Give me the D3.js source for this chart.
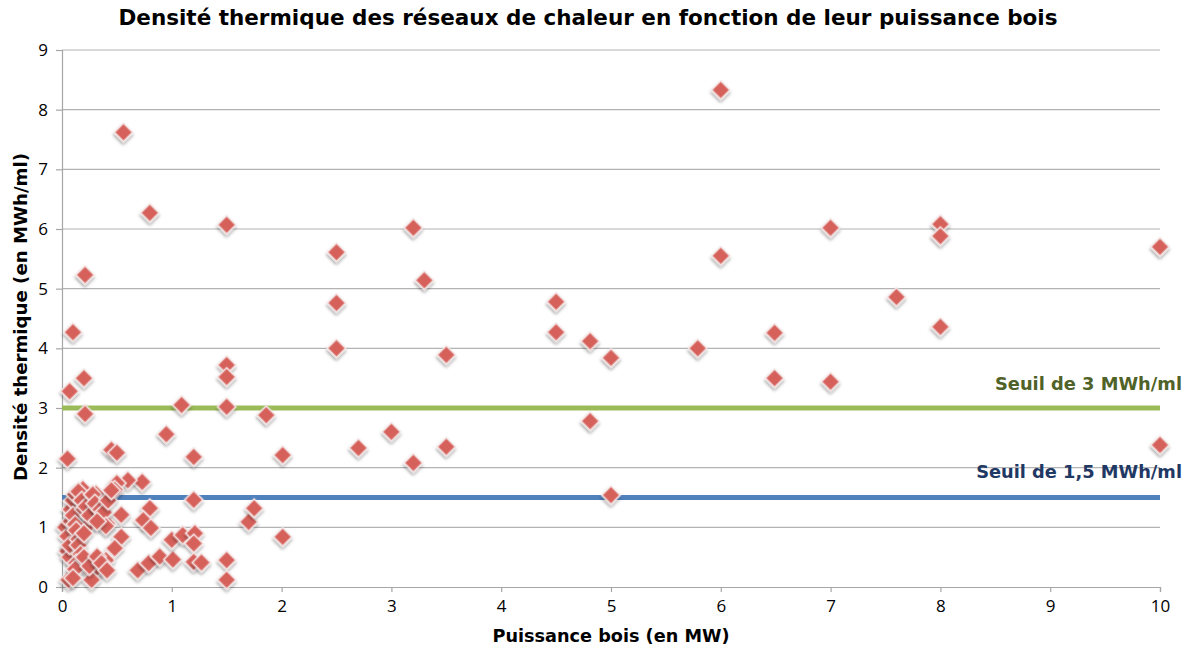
<!DOCTYPE html>
<html><head><meta charset="utf-8">
<script src="https://cdn.jsdelivr.net/npm/d3@7/dist/d3.min.js"></script>
<style>body{margin:0;background:#fff;} svg{display:block;font-family:"Open Sans",sans-serif;}</style>
</head><body>
<svg id="c" width="1194" height="652"></svg>
<script>
const title = "Densité thermique des réseaux de chaleur en fonction de leur puissance bois";
const xLabel = "Puissance bois (en MW)";
const yLabel = "Densité thermique (en MWh/ml)";
const xTicks = [0,1,2,3,4,5,6,7,8,9,10];
const yTicks = [0,1,2,3,4,5,6,7,8,9];
const thresholds = [3, 1.5];
const thresholdLabels = ["Seuil de 3 MWh/ml", "Seuil de 1,5 MWh/ml"];
// puissance bois (MW)
const puissance = [
 0.56,0.80,1.50,0.21,0.10,0.07,0.20,0.21,0.05,1.09,0.95,0.45,0.50,1.20,1.50,1.50,1.50,1.86,2.01,
 2.50,2.50,2.50,2.70,3.00,3.20,3.20,3.30,3.50,3.50,4.50,4.50,4.81,4.81,5.00,5.00,5.79,6.00,6.00,
 6.49,6.49,7.00,7.00,7.60,8.00,8.00,8.00,10.0,10.0,
 1.20,0.73,0.60,0.50,0.48,0.54,0.41,0.25,0.31,0.19,0.80,0.74,0.81,0.54,0.48,
 0.40,0.35,0.28,0.27,0.06,0.69,0.79,0.89,1.01,1.00,1.10,1.21,1.20,1.20,1.27,1.50,1.50,1.70,1.75,2.01,
 0.03,0.05,0.05,0.07,0.07,0.08,0.08,0.10,0.12,0.15,0.10,0.12,0.13,0.15,0.15,0.17,0.13,0.12,0.18,0.20,
 0.22,0.25,0.28,0.30,0.35,0.38,0.42,0.45,0.40,0.32,0.20,0.20,0.25,0.10,0.32,0.36,0.41
];
// densité thermique (MWh/ml)
const densite = [
 7.62,6.27,6.07,5.23,4.27,3.28,3.50,2.90,2.15,3.05,2.56,2.30,2.25,2.18,3.72,3.52,3.02,2.88,2.21,
 5.61,4.76,4.00,2.33,2.60,6.02,2.08,5.14,3.89,2.35,4.78,4.27,4.12,2.78,3.84,1.54,4.00,8.33,5.55,
 4.26,3.50,6.02,3.44,4.86,6.08,5.88,4.36,5.70,2.38,
 1.46,1.76,1.79,1.74,1.63,1.21,1.06,1.06,1.56,1.64,1.32,1.12,0.99,0.84,0.65,
 0.45,0.33,0.25,0.12,0.12,0.28,0.40,0.51,0.46,0.79,0.87,0.90,0.73,0.42,0.41,0.45,0.12,1.09,1.32,0.84,
 1.00,0.85,0.60,0.50,0.70,1.10,1.30,1.45,1.55,1.60,1.20,1.05,0.95,0.80,0.70,0.55,0.40,0.30,1.45,1.30,
 1.35,1.20,1.55,1.40,1.30,1.25,1.45,1.62,1.02,1.10,0.90,0.50,0.35,0.15,0.51,0.40,0.28
];
const data = puissance.map((x,i)=>({x, y: densite[i]}));

const svg = d3.select("#c");
const m = {l:62, r:1160, t:50, b:587};
const x = d3.scaleLinear().domain([0,10]).range([m.l, m.r]);
const y = d3.scaleLinear().domain([0,9]).range([m.b, m.t]);
const boldFont = "'DejaVu Sans',sans-serif";

function fit(sel, target){
  const n = sel.node();
  const fs = parseFloat(sel.attr("font-size"));
  const w = n.getComputedTextLength();
  if (w > 0) sel.attr("font-size", (fs*target/w).toFixed(2)+"px");
}

const defs = svg.append("defs");
const f = defs.append("filter").attr("id","sh").attr("x","-50%").attr("y","-50%").attr("width","200%").attr("height","200%");
f.append("feDropShadow").attr("dx",1.5).attr("dy",2).attr("stdDeviation",1.6).attr("flood-color","#000").attr("flood-opacity",0.35);

// grid
svg.append("g").selectAll("line").data(yTicks.filter(d=>d>0)).join("line")
  .attr("x1",m.l).attr("x2",m.r).attr("y1",d=>y(d)).attr("y2",d=>y(d))
  .attr("stroke","#b3b3b3").attr("stroke-width",1.2);

// axes
const xa = svg.append("g").attr("transform",`translate(0,${m.b})`)
  .call(d3.axisBottom(x).tickValues(xTicks).tickFormat(d3.format("d")).tickSize(5).tickPadding(6));
const ya = svg.append("g").attr("transform",`translate(${m.l},0)`)
  .call(d3.axisLeft(y).tickValues(yTicks).tickFormat(d3.format("d")).tickSize(6).tickPadding(8));
[xa,ya].forEach(a=>{
  a.select(".domain").attr("stroke","#a6a6a6").attr("stroke-width",1.2);
  a.selectAll(".tick line").attr("stroke","#a6a6a6").attr("stroke-width",1.2);
  a.selectAll("text").attr("fill","#000").style("font-size","17px").style("font-family","'Open Sans',sans-serif");
});
xa.selectAll(".tick text").attr("dy","0.85em");

// thresholds
const thColors = ["#9bbb59","#4f81bd"];
const thText = ["#4f6228","#1f3864"];
const thWidths = [187, 206];
svg.append("g").selectAll("line").data(thresholds).join("line")
  .attr("x1",m.l).attr("x2",m.r).attr("y1",d=>y(d)).attr("y2",d=>y(d))
  .attr("stroke",(d,i)=>thColors[i]).attr("stroke-width",5);
svg.append("g").selectAll("text").data(thresholds).join("text")
  .attr("x",1182).attr("y",(d,i)=> y(d) - (i===0?18:20))
  .attr("text-anchor","end").attr("font-weight","700").attr("font-size","16px")
  .style("font-family",boldFont)
  .attr("fill",(d,i)=>thText[i]).text((d,i)=>thresholdLabels[i])
  .each(function(d,i){ fit(d3.select(this), thWidths[i]); });

// points
const s = 13;
svg.append("g").selectAll("rect").data(data).join("rect")
  .attr("x",-s/2).attr("y",-s/2).attr("width",s).attr("height",s)
  .attr("transform",d=>`translate(${x(d.x)},${y(d.y)}) rotate(45)`)
  .attr("fill","#d6605a").attr("stroke","#f4e4e4").attr("stroke-width",1.6)
  .attr("filter","url(#sh)");

// titles
const t = svg.append("text").attr("x",588).attr("y",25).attr("text-anchor","middle")
  .attr("font-weight","700").attr("font-size","20px").style("font-family",boldFont).text(title);
fit(t, 939);
const xl = svg.append("text").attr("x",611).attr("y",642).attr("text-anchor","middle")
  .attr("font-weight","700").attr("font-size","16px").style("font-family",boldFont).text(xLabel);
fit(xl, 237);
const yl = svg.append("text").attr("transform","translate(27,317) rotate(-90)").attr("text-anchor","middle")
  .attr("font-weight","700").attr("font-size","16px").style("font-family",boldFont).text(yLabel);
fit(yl, 328);
</script>
</body></html>
